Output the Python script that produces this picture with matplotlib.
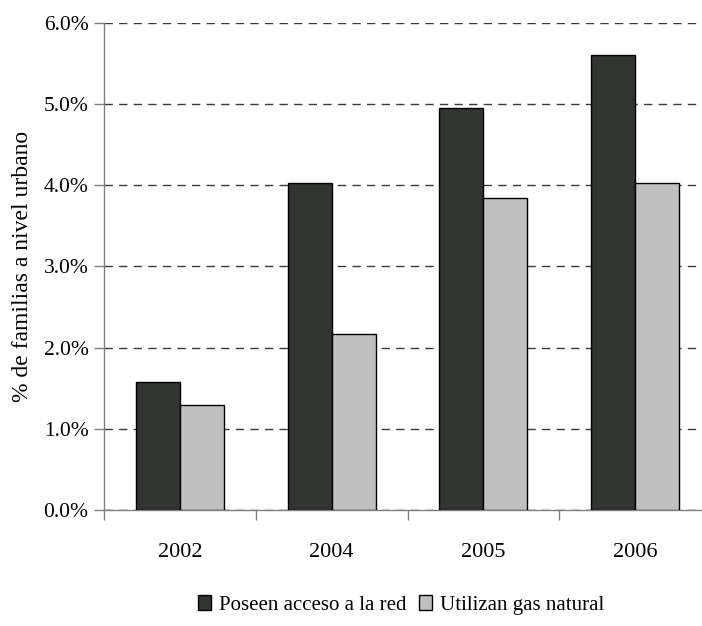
import matplotlib
matplotlib.use("Agg")
import matplotlib.pyplot as plt
import numpy as np
from matplotlib.ticker import FuncFormatter, FixedLocator

years = ["2002", "2004", "2005", "2006"]
acceso_red = [1.57, 4.03, 4.95, 5.60]
gas_natural = [1.29, 2.17, 3.84, 4.03]
series_names = ["Poseen acceso a la red", "Utilizan gas natural"]

plt.rcParams['font.family'] = ['Liberation Serif', 'DejaVu Serif']

fig = plt.figure(figsize=(7.02, 6.26), dpi=100)
ax = fig.add_axes([0.148, 0.1853, 0.865, 0.7785])

x = np.arange(len(years))
w = 0.29
ax.bar(x - w/2, acceso_red, w, color="#323432", edgecolor="black", linewidth=1.0,
       label=series_names[0], zorder=3)
ax.bar(x + w/2, gas_natural, w, color="#c0c0c0", edgecolor="black", linewidth=1.0,
       label=series_names[1], zorder=3)

ax.set_xlim(-0.5, len(years) - 0.5)
ax.set_ylim(0, 6.0)
ax.set_yticks(np.arange(0, 6.01, 1.0))
ax.yaxis.set_major_formatter(FuncFormatter(lambda v, p: f"{v:.1f}%"))
ax.yaxis.grid(True, linestyle=(0, (6, 4.5)), color="#3a3a3a", linewidth=1.0, zorder=0)
ax.set_axisbelow(True)

ax.set_xticks(x)
ax.set_xticklabels(years)
ax.xaxis.set_minor_locator(FixedLocator(np.arange(-0.5, len(years), 1.0)))
ax.tick_params(axis='x', which='major', length=0, pad=24, labelsize=16)
ax.tick_params(axis='x', which='minor', length=7, color="#808080", width=1)
ax.tick_params(axis='y', which='major', length=7, color="#808080", width=1, pad=4, labelsize=15.5)

for s in ["top", "right"]:
    ax.spines[s].set_visible(False)
for s in ["left", "bottom"]:
    ax.spines[s].set_color("#808080")
    ax.spines[s].set_linewidth(1.0)

ax.set_ylabel("% de familias a nivel urbano", fontsize=17, labelpad=8)

fig.legend(loc="center", bbox_to_anchor=(0.571, 0.034), ncol=2, frameon=False,
           fontsize=15, handlelength=0.65, handleheight=0.75, handletextpad=0.35,
           columnspacing=0.6)

fig.savefig("out.png", dpi=100)
